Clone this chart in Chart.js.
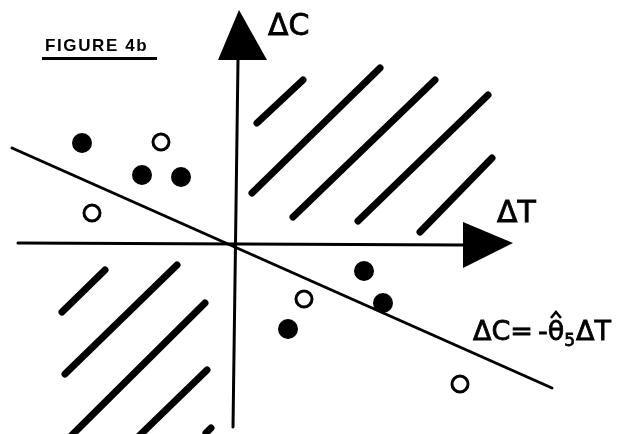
<!DOCTYPE html>
<html>
<head>
<meta charset="utf-8">
<script src="https://cdn.jsdelivr.net/npm/chart.js@4/dist/chart.umd.min.js"></script>
<style>
  html, body { margin: 0; padding: 0; background: #fff; }
  #wrap { width: 627px; height: 434px; }
</style>
</head>
<body>
<div id="wrap"><canvas id="fig" width="627" height="434"></canvas></div>
<script>
// Change in T (horizontal) against change in C (vertical), origin at (0, 0).
// Observations where the response is filled vs. hollow.
const filledObs = [
  { x: -15.2, y: 10.1 },
  { x: -9.2,  y: 6.9 },
  { x: -5.3,  y: 6.7 },
  { x: 13.0,  y: -2.7 },
  { x: 14.9,  y: -5.9 },
  { x: 5.4,   y: -8.5 }
];
const hollowObs = [
  { x: -7.3,  y: 10.2 },
  { x: -14.2, y: 3.1 },
  { x: 7.0,   y: -5.5 },
  { x: 22.6,  y: -14.0 }
];

// Fitted line  ΔC = -θ̂s ΔT  (end points)
const fitLine = [ { x: -22.2, y: 9.6 }, { x: 31.8, y: -14.4 } ];

// Axes
const axisT = [ { x: -21.6, y: 0.1 }, { x: 22.9, y: -0.1 } ];
const axisC = [ { x: 0.4, y: 18.4 }, { x: -0.1, y: -18.3 } ];
const arrowC = [ { x: 0.5, y: 23.4 }, { x: -1.6, y: 18.4 }, { x: 3.3, y: 18.4 } ];
const arrowT = [ { x: 22.9, y: 2.2 }, { x: 27.9, y: 0.1 }, { x: 22.9, y: -2.4 } ];

// Shaded regions (hatching), first quadrant and third quadrant
const hatchUpper = [
  [ { x: 2.3,  y: 12.1 }, { x: 6.9,  y: 16.4 } ],
  [ { x: 1.8,  y: 5.1 },  { x: 14.6, y: 17.6 } ],
  [ { x: 5.9,  y: 2.7 },  { x: 20.1, y: 16.4 } ],
  [ { x: 12.4, y: 2.3 },  { x: 25.4, y: 14.9 } ],
  [ { x: 18.6, y: 1.2 },  { x: 25.8, y: 8.6 } ]
];
const hatchLower = [
  [ { x: -17.2, y: -6.8 },  { x: -12.9, y: -2.6 } ],
  [ { x: -16.9, y: -13.0 }, { x: -5.7,  y: -2.1 } ],
  [ { x: -16.3, y: -19.2 }, { x: -2.9,  y: -5.9 } ],
  [ { x: -9.5,  y: -19.2 }, { x: -2.7,  y: -12.6 } ],
  [ { x: -2.8,  y: -18.9 }, { x: -2.3,  y: -18.4 } ]
];

const INK = '#000';

function segmentDataset(points, width) {
  return {
    type: 'line',
    data: points,
    showLine: true,
    borderColor: INK,
    borderWidth: width,
    borderCapStyle: 'round',
    pointRadius: 0,
    pointHoverRadius: 0,
    fill: false,
    tension: 0,
    clip: false,
    order: 2
  };
}

const datasets = [
  segmentDataset(axisT, 3),
  segmentDataset(axisC, 3),
  segmentDataset(fitLine, 3),
  ...hatchUpper.map(s => segmentDataset(s, 7)),
  ...hatchLower.map(s => segmentDataset(s, 7)),
  {
    type: 'scatter',
    data: filledObs,
    pointRadius: 9,
    pointBorderWidth: 2,
    pointBackgroundColor: INK,
    pointBorderColor: INK,
    order: 1
  },
  {
    type: 'scatter',
    data: hollowObs,
    pointRadius: 8,
    pointBorderWidth: 3,
    pointBackgroundColor: '#fff',
    pointBorderColor: INK,
    order: 1
  }
];

// Solid triangular arrow heads on both axes
const arrowHeads = {
  id: 'arrowHeads',
  afterDatasetsDraw(chart) {
    const { ctx, scales: { x, y } } = chart;
    ctx.save();
    ctx.fillStyle = INK;
    [arrowC, arrowT].forEach(tri => {
      ctx.beginPath();
      tri.forEach((p, i) => {
        const px = x.getPixelForValue(p.x), py = y.getPixelForValue(p.y);
        i ? ctx.lineTo(px, py) : ctx.moveTo(px, py);
      });
      ctx.closePath();
      ctx.fill();
    });
    ctx.restore();
  }
};

// Heading, axis names and the equation of the fitted line
const labels = {
  id: 'labels',
  afterDraw(chart) {
    const { ctx, scales: { x, y } } = chart;
    const X = v => x.getPixelForValue(v), Y = v => y.getPixelForValue(v);
    ctx.save();
    ctx.fillStyle = INK;
    ctx.strokeStyle = INK;
    ctx.textBaseline = 'alphabetic';
    ctx.textAlign = 'left';

    // heading
    ctx.font = 'bold 17px "Liberation Sans", Arial, sans-serif';
    ctx.letterSpacing = '1.6px';
    ctx.fillText('FIGURE 4b', 45, 50.5);
    ctx.letterSpacing = '0px';
    ctx.lineWidth = 3;
    ctx.beginPath();
    ctx.moveTo(42, 58.5);
    ctx.lineTo(157, 58.5);
    ctx.stroke();

    // axis names
    ctx.font = '30px "DejaVu Sans", sans-serif';
    ctx.lineWidth = 0.8;
    ctx.fillText('ΔC', X(3.4), Y(20.9));
    ctx.strokeText('ΔC', X(3.4), Y(20.9));
    ctx.fillText('ΔT', X(26.3), Y(2.2));
    ctx.strokeText('ΔT', X(26.3), Y(2.2));

    // equation of the line
    let cx = X(23.9), base = Y(-9.6);
    const put = (t, font, dy = 0) => {
      ctx.font = font;
      ctx.fillText(t, cx, base + dy);
      ctx.strokeText(t, cx, base + dy);
      const w = ctx.measureText(t).width;
      cx += w;
      return w;
    };
    const big = '27px "DejaVu Sans", sans-serif';
    put('ΔC=', big);
    cx += 5;
    put('-', big);
    const thetaX = cx;
    const tw = put('θ', big);
    ctx.beginPath();
    ctx.lineWidth = 2.5;
    ctx.moveTo(thetaX + tw * 0.2, base - 22);
    ctx.lineTo(thetaX + tw * 0.5, base - 28);
    ctx.lineTo(thetaX + tw * 0.8, base - 22);
    ctx.stroke();
    ctx.lineWidth = 0.8;
    put('5', '17px "DejaVu Sans", sans-serif', 6);
    cx += 1;
    put('ΔT', big);
    ctx.restore();
  }
};

new Chart(document.getElementById('fig'), {
  type: 'scatter',
  data: { datasets },
  options: {
    responsive: false,
    animation: false,
    events: [],
    layout: { padding: 0, autoPadding: false },
    plugins: { legend: { display: false }, tooltip: { enabled: false } },
    scales: {
      x: { type: 'linear', display: false, min: -23.4, max: 39.3 },
      y: { type: 'linear', display: false, min: -19.0, max: 24.4 }
    }
  },
  plugins: [arrowHeads, labels]
});
</script>
</body>
</html>
